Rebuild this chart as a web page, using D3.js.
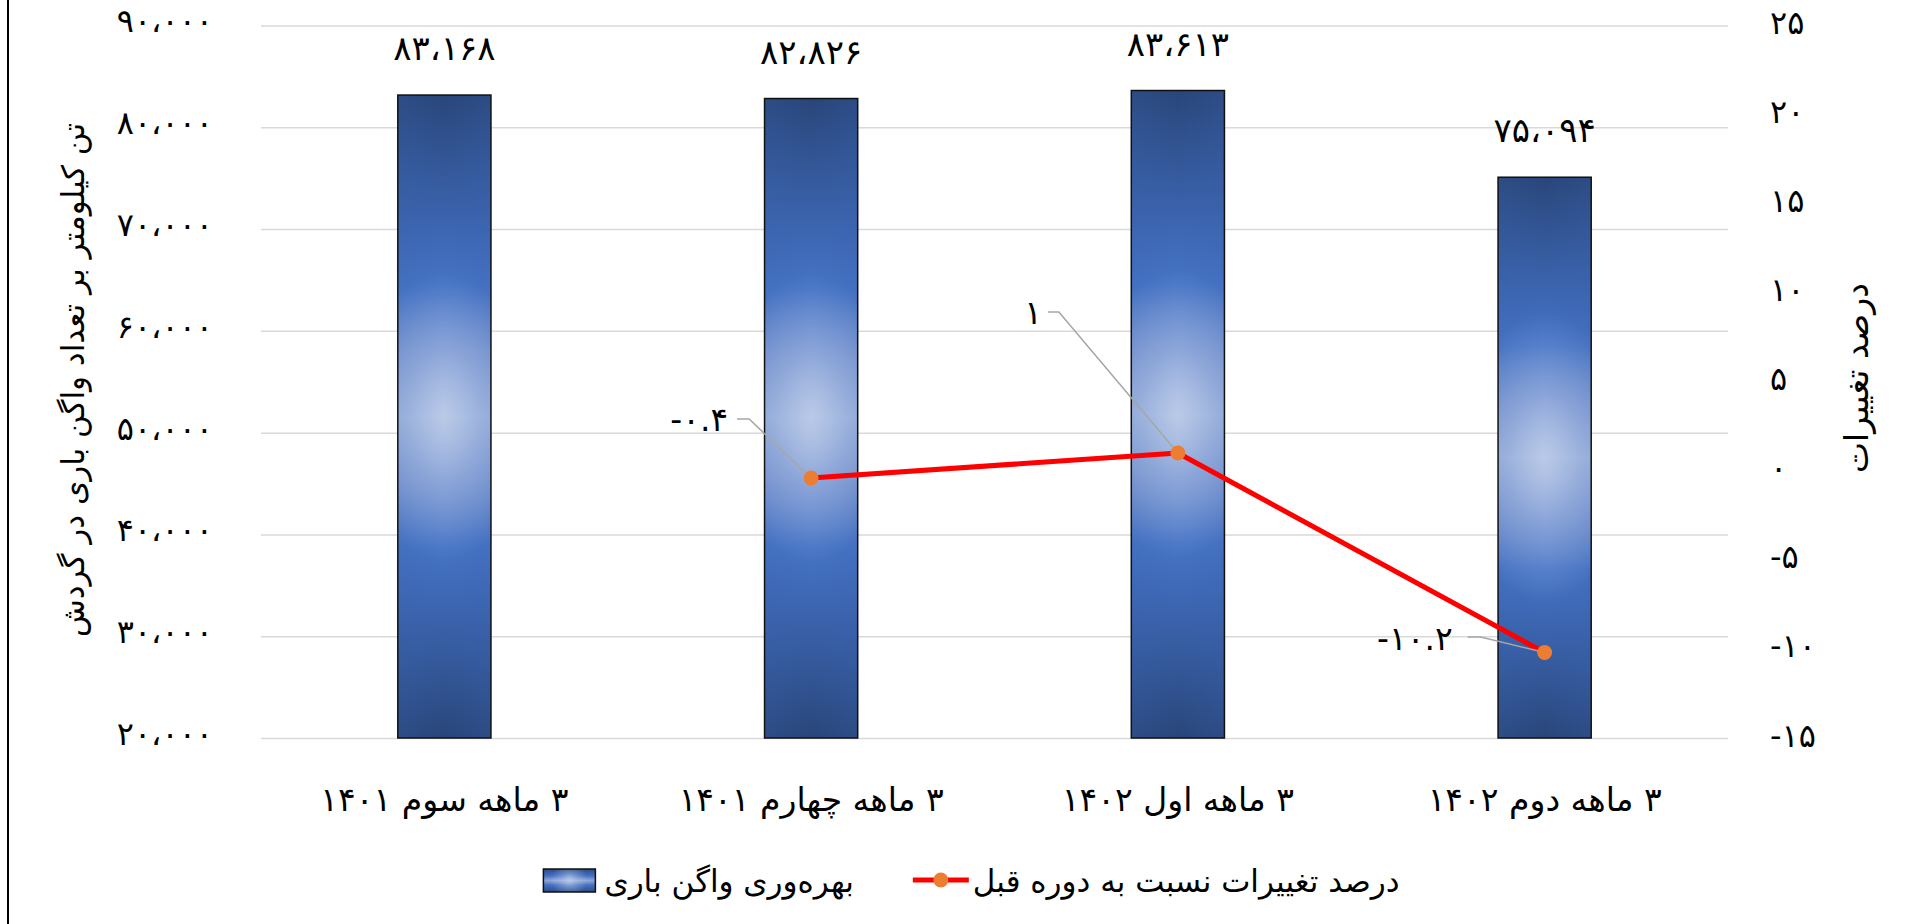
<!DOCTYPE html>
<html><head><meta charset="utf-8">
<script src="https://cdn.jsdelivr.net/npm/d3@7/dist/d3.min.js"></script>
<style>
body{margin:0;background:#fff;}
svg{display:block;}
text{font-family:"DejaVu Sans",sans-serif;fill:#000;}
</style>
</head><body>
<svg id="chart" width="1914" height="924"></svg>
<script>
// ---------- data ----------
const categories = ["۳ ماهه سوم ۱۴۰۱", "۳ ماهه چهارم ۱۴۰۱", "۳ ماهه اول ۱۴۰۲", "۳ ماهه دوم ۱۴۰۲"];
const productivity = [83168, 82826, 83613, 75094];
const changePct = [null, -0.4, 1, -10.2];
const leftTicks = [20000, 30000, 40000, 50000, 60000, 70000, 80000, 90000];
const rightTicks = [-15, -10, -5, 0, 5, 10, 15, 20, 25];
const seriesNames = ["بهره‌وری واگن باری", "درصد تغییرات نسبت به دوره قبل"];
const leftTitle = "تن کیلومتر بر تعداد واگن باری در گردش";
const rightTitle = "درصد تغییرات";

// ---------- helpers ----------
const faDigits = "۰۱۲۳۴۵۶۷۸۹";
const fa = s => String(s).replace(/[0-9]/g, d => faDigits[+d]);
const faThousands = v => fa(d3.format(",")(v).replace(/,/g, "،"));

const svg = d3.select("#chart");
const W = 1914, H = 924;
const plot = {left: 261, right: 1728, top: 25.5, bottom: 738};

const x = d3.scaleBand().domain(categories).range([plot.left, plot.right])
  .paddingInner(0.746).paddingOuter(0.373);
const yL = d3.scaleLinear().domain([20000, 90000]).range([plot.bottom, plot.top]);
const yR = d3.scaleLinear().domain([-15, 25]).range([plot.bottom, plot.top]);

// ---------- defs (gradients) ----------
const defs = svg.append("defs");
const lg = defs.append("linearGradient").attr("id", "barV").attr("x1", 0).attr("y1", 0).attr("x2", 0).attr("y2", 1);
[[0, "#29467a"], [0.18, "#3a62ab"], [0.3, "#4674c6"], [0.4, "#7895d2"], [0.5, "#a0b5df"],
 [0.6, "#7895d2"], [0.7, "#4674c6"], [0.82, "#3a62ab"], [1, "#29467a"]]
  .forEach(([o, c]) => lg.append("stop").attr("offset", o).attr("stop-color", c));
const hg = defs.append("linearGradient").attr("id", "barH").attr("x1", 0).attr("y1", 0).attr("x2", 1).attr("y2", 0);
[[0, 0.22], [0.5, 0], [1, 0.22]].forEach(([o, a]) =>
  hg.append("stop").attr("offset", o).attr("stop-color", "#3a62ad").attr("stop-opacity", a));

function radial(id, cx, cy, r, sy) {
  const g = defs.append("radialGradient").attr("id", id).attr("gradientUnits", "userSpaceOnUse")
    .attr("cx", 0).attr("cy", 0).attr("r", r)
    .attr("gradientTransform", `translate(${cx},${cy}) scale(1,${sy})`);
  [[0, "#c3d0ea", 0.75], [0.45, "#b4c6e7", 0.35], [1, "#b4c6e7", 0]].forEach(([o, c, a]) =>
    g.append("stop").attr("offset", o).attr("stop-color", c).attr("stop-opacity", a));
}

// ---------- border ----------
svg.append("line").attr("x1", 8).attr("x2", 8).attr("y1", 0).attr("y2", H)
  .attr("stroke", "#000").attr("stroke-width", 2);

// ---------- gridlines ----------
const grid = svg.append("g").attr("transform", `translate(${plot.left},0)`)
  .call(d3.axisLeft(yL).tickValues(leftTicks).tickSize(-(plot.right - plot.left)).tickFormat(""));
grid.select(".domain").remove();
grid.selectAll(".tick line").attr("stroke", "#d9d9d9").attr("stroke-width", 1.5);

// ---------- left axis ----------
const axL = svg.append("g").attr("transform", `translate(${plot.left},0)`)
  .call(d3.axisLeft(yL).tickValues(leftTicks).tickSize(0).tickPadding(48).tickFormat(faThousands));
axL.select(".domain").remove();
axL.selectAll("text").attr("font-size", 32).attr("dy", "0.2em").style("font-family", '"DejaVu Sans",sans-serif').attr("fill", "#000");

// ---------- right axis ----------
const axR = svg.append("g").attr("transform", `translate(${plot.right},0)`)
  .call(d3.axisRight(yR).tickValues(rightTicks).tickSize(0).tickPadding(42).tickFormat(v => fa(v)));
axR.select(".domain").remove();
axR.selectAll("text").attr("font-size", 32).attr("dy", "0.25em").style("font-family", '"DejaVu Sans",sans-serif').attr("fill", "#000");

// ---------- category labels ----------
svg.append("g").selectAll("text").data(categories).join("text")
  .attr("x", d => x(d) + x.bandwidth() / 2).attr("y", 811)
  .attr("text-anchor", "middle").style("direction", "rtl")
  .attr("font-size", 33).text(d => d);

// ---------- bars ----------
const barData = categories.map((c, i) => ({c, v: productivity[i], id: "barR" + i}));
barData.forEach(d => {
  const top = yL(d.v), bot = yL(20000);
  radial(d.id, x(d.c) + x.bandwidth() / 2, (top + bot) / 2, 85, 1.7);
});
const bars = svg.append("g");
[d => "url(#barV)", d => "url(#barH)", d => `url(#${d.id})`].forEach((f, k) => {
  bars.append("g").selectAll("rect").data(barData).join("rect")
    .attr("x", d => x(d.c)).attr("width", x.bandwidth())
    .attr("y", d => yL(d.v)).attr("height", d => yL(20000) - yL(d.v))
    .attr("fill", f)
    .attr("stroke", k === 2 ? "#111" : "none").attr("stroke-width", 1.5);
});
svg.append("g").selectAll("text").data(barData).join("text")
  .attr("x", d => x(d.c) + x.bandwidth() / 2).attr("y", d => yL(d.v) - 35)
  .attr("text-anchor", "middle").attr("font-size", 34).text(d => faThousands(d.v));

// ---------- line ----------
const lineData = categories.map((c, i) => ({c, v: changePct[i]})).filter(d => d.v !== null);
const px = d => x(d.c) + x.bandwidth() / 2;
svg.append("path").datum(lineData)
  .attr("d", d3.line().x(px).y(d => yR(d.v)))
  .attr("fill", "none").attr("stroke", "#ff0000").attr("stroke-width", 5).attr("stroke-linejoin", "round");

// data labels with leader lines (manually placed as in the source chart)
const labelLayout = [
  {tx: -83, ty: -47, leader: [[-74, -59], [-62, -59]]},
  {tx: -136, ty: -129, leader: [[-130, -141], [-119, -141]]},
  {tx: -92, ty: -3, leader: [[-77, -15.5], [-64, -15.5]]}
];
const lbl = svg.append("g");
lineData.forEach((d, i) => {
  const X = px(d), Y = yR(d.v), L = labelLayout[i];
  const pts = L.leader.map(p => [X + p[0], Y + p[1]]).concat([[X, Y]]);
  lbl.append("path").attr("d", d3.line()(pts)).attr("fill", "none")
    .attr("stroke", "#a6a6a6").attr("stroke-width", 1.5);
  lbl.append("text").attr("x", X + L.tx).attr("y", Y + L.ty)
    .attr("text-anchor", "end").attr("font-size", 33).text(fa(d.v));
});
svg.append("g").selectAll("circle").data(lineData).join("circle")
  .attr("cx", px).attr("cy", d => yR(d.v)).attr("r", 7.5).attr("fill", "#ed7d31");

// ---------- axis titles ----------
svg.append("text").attr("transform", "translate(84,380) rotate(-90)")
  .attr("text-anchor", "middle").style("direction", "rtl").attr("font-size", 31).text(leftTitle);
svg.append("text").attr("transform", "translate(1868,378) rotate(-90)")
  .attr("text-anchor", "middle").style("direction", "rtl").attr("font-size", 33).text(rightTitle);

// ---------- legend ----------
const lgG = svg.append("g");
const ly = 880;
const t1 = lgG.append("text").attr("font-size", 31).style("direction", "rtl").attr("text-anchor", "middle").attr("y", ly + 12).text(seriesNames[0]);
const t2 = lgG.append("text").attr("font-size", 31).style("direction", "rtl").attr("text-anchor", "middle").attr("y", ly + 12).text(seriesNames[1]);
const w1 = t1.node().getComputedTextLength(), w2 = t2.node().getComputedTextLength();
const total = 52 + 9 + w1 + 59 + 56 + 4 + w2;
let cx = 971.5 - total / 2;
radial("legR", cx + 26, ly, 18, 1);
["url(#barV)", "url(#barH)", "url(#legR)"].forEach((f, k) => {
  lgG.append("rect").attr("x", cx).attr("y", ly - 11).attr("width", 52).attr("height", 23)
    .attr("fill", f).attr("stroke", k === 2 ? "#111" : "none").attr("stroke-width", 1.5);
});
cx += 52 + 9;
t1.attr("x", cx + w1 / 2);
cx += w1 + 59;
lgG.append("line").attr("x1", cx).attr("x2", cx + 56).attr("y1", ly).attr("y2", ly)
  .attr("stroke", "#ff0000").attr("stroke-width", 5);
lgG.append("circle").attr("cx", cx + 28).attr("cy", ly).attr("r", 7.5).attr("fill", "#ed7d31");
cx += 56 + 4;
t2.attr("x", cx + w2 / 2);
</script>
</body></html>
